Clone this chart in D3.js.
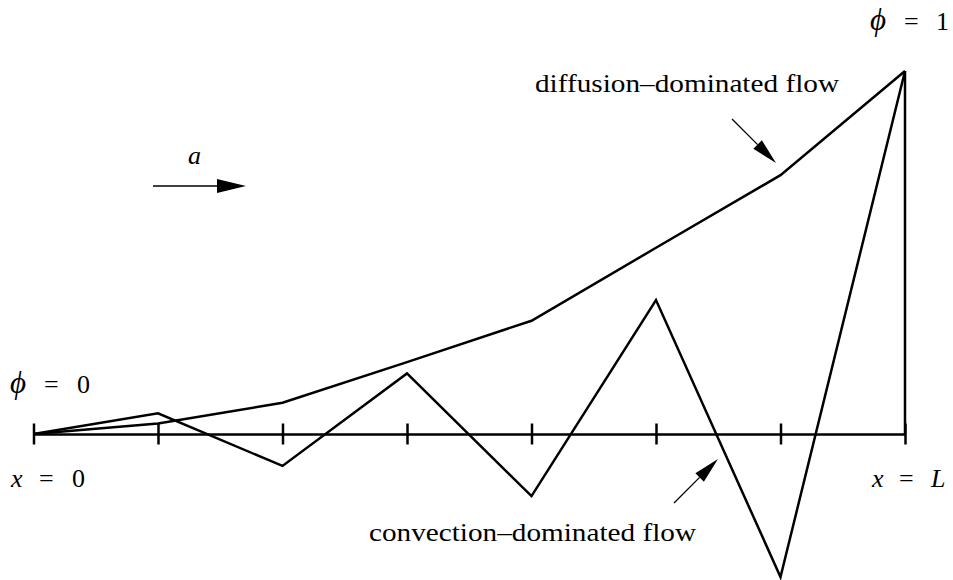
<!DOCTYPE html>
<html>
<head>
<meta charset="utf-8">
<script src="https://cdn.jsdelivr.net/npm/d3@7"></script>
<style>
  html, body { margin: 0; padding: 0; background: #fff; }
  svg { display: block; }
</style>
</head>
<body>
<svg id="chart" width="953" height="580"></svg>
<script>
// Node indices along the domain 0..L (7 elements)
const nodes = [0, 1, 2, 3, 4, 5, 6, 7];
// Nodal values of phi for the two regimes
const diffusionValues  = [0, 0.029, 0.086, 0.198, 0.312, 0.513, 0.713, 1];
const convectionValues = [0, 0.057, -0.088, 0.167, -0.171, 0.369, -0.394, 1];

const SERIF = "'Liberation Serif', 'Times New Roman', Times, 'DejaVu Serif', serif";

const svg = d3.select("#chart");
const x = d3.scaleLinear().domain([0, 7]).range([33.5, 905]);
const y = d3.scaleLinear().domain([0, 1]).range([434, 71]);

const STROKE = 2.5;

// Axis along phi = 0 with ticks crossing the line
const axis = d3.axisBottom(x).tickValues(nodes).tickFormat("").tickSizeOuter(0).tickSize(0);
const gAxis = svg.append("g").attr("transform", `translate(0,${y(0)})`).call(axis);
gAxis.select(".domain").attr("stroke", "#000").attr("stroke-width", STROKE);
gAxis.selectAll(".tick line")
  .attr("y1", -10.5).attr("y2", 10.5)
  .attr("stroke", "#000").attr("stroke-width", STROKE);

// Boundary value at x = L
svg.append("line")
  .attr("x1", x(7)).attr("x2", x(7))
  .attr("y1", y(0)).attr("y2", y(1))
  .attr("stroke", "#000").attr("stroke-width", STROKE);

const line = d3.line().x((d, i) => x(nodes[i])).y(d => y(d));

[diffusionValues, convectionValues].forEach(vals => {
  svg.append("path")
    .datum(vals)
    .attr("d", line)
    .attr("fill", "none")
    .attr("stroke", "#000")
    .attr("stroke-width", STROKE)
    .attr("stroke-linejoin", "miter");
});

// Arrow with a filled triangular head
function arrow(x1, y1, x2, y2, headLen, headHalf, width) {
  const dx = x2 - x1, dy = y2 - y1;
  const len = Math.hypot(dx, dy);
  const ux = dx / len, uy = dy / len;
  const bx = x2 - ux * headLen, by = y2 - uy * headLen;
  svg.append("line")
    .attr("x1", x1).attr("y1", y1).attr("x2", bx).attr("y2", by)
    .attr("stroke", "#000").attr("stroke-width", width);
  const pts = [
    [x2, y2],
    [bx - uy * headHalf, by + ux * headHalf],
    [bx + uy * headHalf, by - ux * headHalf]
  ];
  svg.append("polygon")
    .attr("points", pts.map(p => p.join(",")).join(" "))
    .attr("fill", "#000");
}

arrow(153, 186, 246, 186, 29, 7, 1.4);   // advection velocity a
arrow(732, 119, 776, 163, 26, 6, 1.3);   // pointer to diffusion curve
arrow(674, 503, 718, 459, 26, 6, 1.3);   // pointer to convection curve

// Equation-style labels: each piece placed individually
function mathLabel(parts, baseline) {
  const t = svg.append("text")
    .attr("y", baseline)
    .style("font-family", SERIF)
    .style("font-size", "26px")
    .attr("fill", "#000");
  parts.forEach(p => {
    const ts = t.append("tspan")
      .attr("x", p.x)
      .style("font-style", p.italic ? "italic" : "normal")
      .text(p.s);
    if (p.size) ts.style("font-size", p.size + "px");
  });
}

mathLabel([{s: "\u03D5", x: 870, italic: true, size: 31}, {s: "=", x: 904}, {s: "1", x: 936}], 30);
mathLabel([{s: "\u03D5", x: 10, italic: true, size: 31}, {s: "=", x: 44}, {s: "0", x: 77}], 393);
mathLabel([{s: "x", x: 11, italic: true}, {s: "=", x: 39}, {s: "0", x: 72}], 487);
mathLabel([{s: "x", x: 872, italic: true}, {s: "=", x: 899}, {s: "L", x: 931, italic: true}], 487);
mathLabel([{s: "a", x: 188, italic: true}], 164);

// Regime annotations
function note(txt, x0, base, width) {
  svg.append("text")
    .attr("x", x0).attr("y", base)
    .attr("textLength", width).attr("lengthAdjust", "spacingAndGlyphs")
    .style("font-family", SERIF)
    .style("font-size", "26px")
    .attr("fill", "#000")
    .text(txt);
}
note("diffusion\u2013dominated flow", 535, 92, 304);
note("convection\u2013dominated flow", 369, 541, 327);
</script>
</body>
</html>
